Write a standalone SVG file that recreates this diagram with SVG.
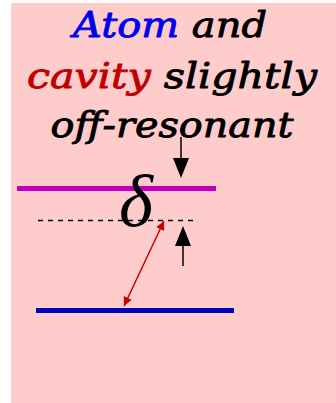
<svg xmlns="http://www.w3.org/2000/svg" width="336" height="403" viewBox="0 0 336 403">
<defs>
<style>
.t{font-family:"DejaVu Serif","Liberation Serif",serif;font-style:italic;font-weight:normal;font-size:36px;text-anchor:middle;stroke-width:0.9px;stroke-linejoin:round}
.k{fill:#000;stroke:#000}
.b{fill:#0000ee;stroke:#0000ee}
.r{fill:#c00000;stroke:#c00000}
</style>
<marker id="rh" viewBox="0 0 10 10" refX="10" refY="5" markerWidth="9" markerHeight="9" markerUnits="userSpaceOnUse" orient="auto-start-reverse">
<path d="M0,0 L10,5 L0,10 z" fill="#cc0000"/>
</marker>
</defs>
<rect x="11" y="3" width="325" height="400" fill="#ffcccc"/>
<g id="title">
<text class="t" x="170" y="37" textLength="194" lengthAdjust="spacingAndGlyphs"><tspan class="b">Atom</tspan><tspan class="k"> and</tspan></text>
<text class="t" x="172" y="88" textLength="290" lengthAdjust="spacingAndGlyphs"><tspan class="r">cavity</tspan><tspan class="k"> slightly</tspan></text>
<text class="t k" x="172" y="137" textLength="243" lengthAdjust="spacingAndGlyphs">off-resonant</text>
</g>
<g id="cavity-level">
<line x1="17" y1="188.5" x2="216" y2="188.5" stroke="#c000c0" stroke-width="5"/>
</g>
<g id="atom-upper-level">
<line x1="38" y1="220.5" x2="193" y2="220.5" stroke="#000" stroke-width="1.5" stroke-dasharray="5,5"/>
</g>
<g id="ground-level">
<line x1="36" y1="310.5" x2="234" y2="310.5" stroke="#0000c0" stroke-width="5"/>
</g>
<g id="delta">
<text x="136" y="226" font-family="Liberation Serif,serif" font-style="italic" font-size="73" text-anchor="middle" fill="#000">δ</text>
</g>
<g id="connectors">
<line x1="181" y1="137" x2="181" y2="158" stroke="#000" stroke-width="1.5"/>
<path d="M173,158 L189,158 L181,178 z" fill="#000"/>
<line x1="183" y1="266" x2="183" y2="246" stroke="#000" stroke-width="1.5"/>
<path d="M175,246 L191,246 L183,226 z" fill="#000"/>
<line x1="164" y1="221" x2="124" y2="306" stroke="#cc0000" stroke-width="1.5" marker-start="url(#rh)" marker-end="url(#rh)"/>
</g>
</svg>
